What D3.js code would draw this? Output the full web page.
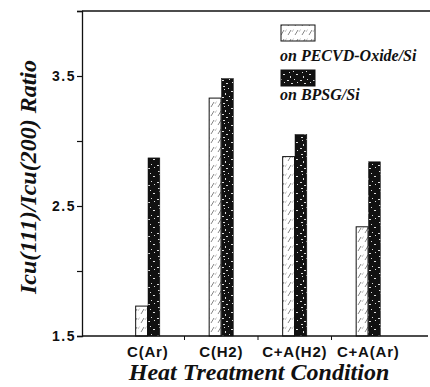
<!DOCTYPE html>
<html><head><meta charset="utf-8">
<script src="https://cdn.jsdelivr.net/npm/d3@7"></script>
<style>body{margin:0;background:#fff}svg{display:block}</style>
</head><body>
<svg id="c" width="430" height="387"></svg>
<script>
const categories = ["C(Ar)", "C(H2)", "C+A(H2)", "C+A(Ar)"];
const seriesNames = ["on PECVD-Oxide/Si", "on BPSG/Si"];
const pecvd = [1.73, 3.33, 2.88, 2.34];
const bpsg = [2.87, 3.48, 3.05, 2.84];
const yTicks = [1.5, 2.0, 2.5, 3.0, 3.5, 4.0];
const yTickLabels = ["1.5", "", "2.5", "", "3.5", ""];

const svg = d3.select("#c");
const defs = svg.append("defs");
// light hatch pattern
const pl = defs.append("pattern").attr("id","light").attr("patternUnits","userSpaceOnUse")
  .attr("width",7).attr("height",9);
pl.append("rect").attr("width",7).attr("height",9).attr("fill","#fff");
pl.append("path").attr("d","M1,8 L4,3").attr("stroke","#666").attr("stroke-width",0.8);
pl.append("path").attr("d","M5,5 L6.5,2.5").attr("stroke","#999").attr("stroke-width",0.6);
// dark speckle pattern
const pd = defs.append("pattern").attr("id","dark").attr("patternUnits","userSpaceOnUse")
  .attr("width",13).attr("height",17);
pd.append("rect").attr("width",13).attr("height",17).attr("fill","#111");
[[2,1,2,1],[7,3,1,1],[10,6,2,1],[4,8,1,2],[1,12,2,1],[8,11,1,1],[11,14,1,1],[5,15,2,1],[3,4,1,1]]
  .forEach(s=>pd.append("rect").attr("x",s[0]).attr("y",s[1]).attr("width",s[2]).attr("height",s[3]).attr("fill","#ddd"));

const x0 = 82, yTop = 11, yBot = 336;
const y = d3.scaleLinear().domain([1.5, 4.0]).range([yBot, yTop]);
const x = d3.scaleBand().domain(categories).range([111, 405]).padding(0);
const xs = d3.scaleBand().domain(seriesNames).range([0, x.bandwidth()]).paddingInner(0.04).paddingOuter(2.0);

// bars
const g = svg.append("g");
categories.forEach((c,i)=>{
  const vals = [pecvd[i], bpsg[i]];
  vals.forEach((v,j)=>{
    g.append("rect")
      .attr("x", x(c)+xs(seriesNames[j]))
      .attr("y", y(v))
      .attr("width", xs.bandwidth())
      .attr("height", y(1.5)-y(v))
      .attr("fill", j===0 ? "url(#light)" : "url(#dark)")
      .attr("stroke", "#111").attr("stroke-width", j===0?1:0.5);
  });
});

// y axis
const yAxis = d3.axisLeft(y).tickValues(yTicks).tickFormat((d,i)=>yTickLabels[i]).tickSize(5).tickPadding(1);
const ya = svg.append("g").attr("transform",`translate(${x0},0)`).call(yAxis);
ya.select(".domain").attr("stroke","#111").attr("stroke-width",1.3);
ya.selectAll(".tick line").attr("stroke","#111").attr("stroke-width",1.2);
ya.selectAll(".tick text").attr("font-family","Liberation Sans, Arial, sans-serif")
  .attr("font-weight","bold").attr("font-size",14).attr("letter-spacing",1.5).attr("fill","#111");

// x axis
const xAxis = d3.axisBottom(x).tickSize(0).tickPadding(10);
const xa = svg.append("g").attr("transform",`translate(0,${yBot})`).call(xAxis);
xa.select(".domain").remove();
xa.selectAll(".tick text").attr("font-family","Liberation Sans, Arial, sans-serif")
  .attr("font-weight","bold").attr("font-size",15).attr("letter-spacing",0.8).attr("fill","#111");
// baseline and top frame lines
svg.append("line").attr("x1",x0).attr("x2",428).attr("y1",yBot).attr("y2",yBot).attr("stroke","#111").attr("stroke-width",1.3);
svg.append("line").attr("x1",x0).attr("x2",430).attr("y1",yTop).attr("y2",yTop).attr("stroke","#111").attr("stroke-width",1.5);
// band boundary ticks
categories.slice(1).forEach(c=>{
  svg.append("line").attr("x1",x(c)).attr("x2",x(c)).attr("y1",yBot).attr("y2",yBot+4).attr("stroke","#111").attr("stroke-width",1);
});

// titles
svg.append("text").attr("transform",`translate(36,177) rotate(-90)`).attr("text-anchor","middle")
  .attr("font-family","Liberation Serif, Times New Roman, serif").attr("font-style","italic").attr("font-weight","bold")
  .attr("font-size",24).attr("fill","#111").text("Icu(111)/Icu(200) Ratio");
svg.append("text").attr("x",259).attr("y",380).attr("text-anchor","middle")
  .attr("font-family","Liberation Serif, Times New Roman, serif").attr("font-style","italic").attr("font-weight","bold")
  .attr("font-size",24).attr("fill","#111").text("Heat Treatment Condition");

// legend
const leg = svg.append("g");
[[25,"url(#light)",61],[70,"url(#dark)",100]].forEach((L,i)=>{
  leg.append("rect").attr("x",281).attr("y",L[0]).attr("width",34).attr("height",16)
    .attr("fill",L[1]).attr("stroke","#111").attr("stroke-width",1);
  leg.append("text").attr("x",280).attr("y",L[2])
    .attr("font-family","Liberation Serif, Times New Roman, serif").attr("font-style","italic").attr("font-weight","bold")
    .attr("font-size",16).attr("fill","#111").text(seriesNames[i]);
});
</script>
</body></html>
